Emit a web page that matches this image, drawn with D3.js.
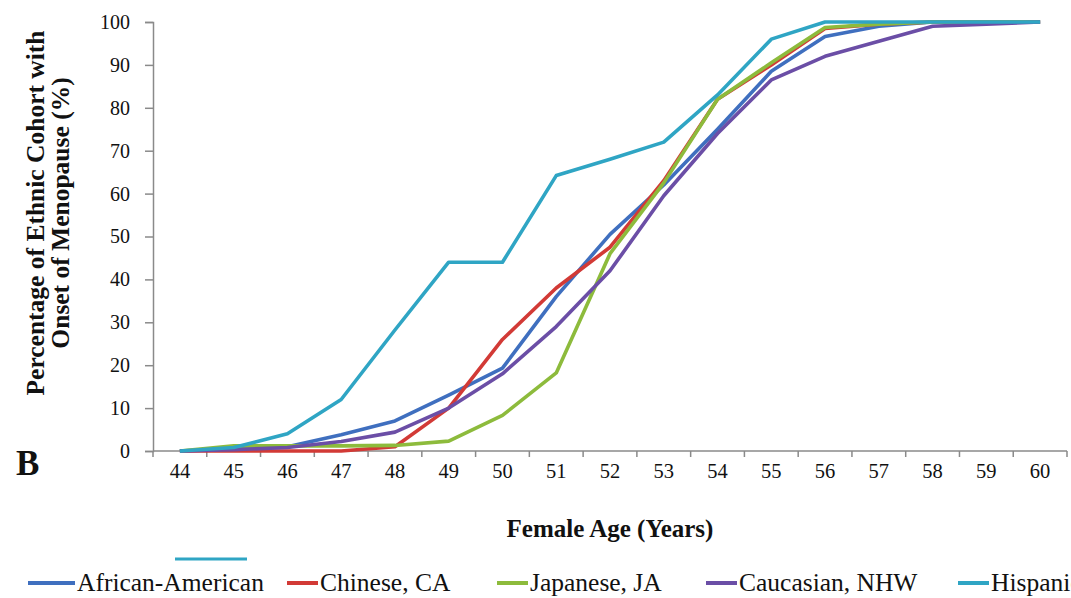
<!DOCTYPE html>
<html>
<head>
<meta charset="utf-8">
<script src="https://cdn.jsdelivr.net/npm/d3@7"></script>
<style>
  html, body { margin: 0; padding: 0; background: #fff; }
  svg { display: block; }
  svg text { font-family: "Liberation Serif", "Times New Roman", serif; }
</style>
</head>
<body>
<svg id="chart" width="1071" height="598"></svg>
<script>
// Female age (years) on the category axis
const ages = [44, 45, 46, 47, 48, 49, 50, 51, 52, 53, 54, 55, 56, 57, 58, 59, 60];

// Cumulative percentage of each ethnic cohort with onset of menopause
const africanAmerican = [0, 0.5, 1, 3.8, 7, 13, 19.3, 36, 50.5, 62, 75, 88.5, 96.6, 99, 100, 100, 100];
const chineseCA       = [0, 0, 0, 0, 1, 10, 26, 38, 47.5, 63, 82, 90, 98.5, 99.5, 100, 100, 100];
const japaneseJA      = [0, 1.2, 1.2, 1.2, 1.3, 2.3, 8.3, 18.2, 46, 62.5, 82, 90.5, 98.7, 99.5, 100, 100, 100];
const caucasianNHW    = [0, 0.3, 0.8, 2.2, 4.4, 10, 18, 29, 42, 59.5, 74, 86.5, 92, 95.5, 99, 99.5, 100];
const hispanic        = [0, 0.8, 4, 12, 28.2, 44, 44, 64.2, 68, 72, 83, 96, 100, 100, 100, 100, 100];

const seriesNames  = ["African-American", "Chinese, CA", "Japanese, JA", "Caucasian, NHW", "Hispanic"];
const seriesValues = [africanAmerican, chineseCA, japaneseJA, caucasianNHW, hispanic];
const seriesColors = ["#3f6fbf", "#d23a36", "#8dbb3c", "#6b4ea6", "#2fa5c4"];

const yTicks = [0, 10, 20, 30, 40, 50, 60, 70, 80, 90, 100];

const serif = '"Liberation Serif", "Times New Roman", serif';
const svg = d3.select("#chart");

const x = d3.scaleBand().domain(ages).range([153, 1067]).paddingInner(0).paddingOuter(0);
const y = d3.scaleLinear().domain([0, 100]).range([451, 22]);
const axisColor = "#8a8a8a";

// Y axis
const yAxis = svg.append("g")
  .attr("transform", "translate(153,0)")
  .call(d3.axisLeft(y).tickValues(yTicks).tickSize(8).tickPadding(15).tickFormat(d3.format("d")))
  .attr("font-family", serif);
yAxis.select(".domain").attr("stroke", axisColor).attr("stroke-width", 1.5);
yAxis.selectAll(".tick line").attr("stroke", axisColor).attr("stroke-width", 1.5);
yAxis.selectAll(".tick text")
  .attr("font-family", serif)
  .attr("font-size", 20)
  .attr("fill", "#111");

// X axis: ticks sit on the category boundaries, labels at band centres
const xAxis = svg.append("g").attr("transform", "translate(0,451)");
xAxis.append("line")
  .attr("x1", 153).attr("x2", 1067).attr("y1", 0).attr("y2", 0)
  .attr("stroke", axisColor).attr("stroke-width", 1.5);
const boundaries = ages.map(a => x(a)).concat([x(ages[ages.length - 1]) + x.bandwidth()]);
xAxis.selectAll("line.tk").data(boundaries).join("line")
  .attr("class", "tk")
  .attr("x1", d => d).attr("x2", d => d)
  .attr("y1", 0).attr("y2", 6)
  .attr("stroke", axisColor).attr("stroke-width", 1.5);
xAxis.selectAll("text.lbl").data(ages).join("text")
  .attr("class", "lbl")
  .attr("x", d => x(d) + x.bandwidth() / 2)
  .attr("y", 27)
  .attr("text-anchor", "middle")
  .attr("font-family", serif)
  .attr("font-size", 20.5)
  .attr("fill", "#111")
  .text(d => d);

// Series lines
const line = d3.line()
  .x((d, i) => x(ages[i]) + x.bandwidth() / 2)
  .y(d => y(d));

svg.append("g").selectAll("path")
  .data(seriesValues)
  .join("path")
  .attr("d", d => line(d))
  .attr("fill", "none")
  .attr("stroke", (d, i) => seriesColors[i])
  .attr("stroke-width", 3.6)
  .attr("stroke-linejoin", "round");

// Axis titles
svg.append("text")
  .attr("x", 610).attr("y", 537)
  .attr("text-anchor", "middle")
  .attr("font-family", serif)
  .attr("font-weight", "bold")
  .attr("font-size", 25)
  .attr("fill", "#111")
  .text("Female Age (Years)");

const yTitle = svg.append("text")
  .attr("transform", "translate(0,213) rotate(-90)")
  .attr("text-anchor", "middle")
  .attr("font-family", serif)
  .attr("font-weight", "bold")
  .attr("font-size", 25.5)
  .attr("fill", "#111");
yTitle.append("tspan").attr("x", 0).attr("y", 44).text("Percentage of Ethnic Cohort with");
yTitle.append("tspan").attr("x", 0).attr("y", 69).text("Onset of Menopause (%)");

// Panel letter
svg.append("text")
  .attr("x", 16).attr("y", 475)
  .attr("font-family", serif)
  .attr("font-weight", "bold")
  .attr("font-size", 35)
  .attr("fill", "#111")
  .text("B");

// Legend: one row below the axis title, last entry runs off the right edge
const legend = svg.append("g");
legend.append("line")
  .attr("x1", 175).attr("x2", 247).attr("y1", 559).attr("y2", 559)
  .attr("stroke", seriesColors[4]).attr("stroke-width", 3);

const legendStart = [28, 287, 497, 706, 958];
const legendKey   = [47, 31, 31, 31, 31];
seriesNames.forEach((name, i) => {
  const lx = legendStart[i];
  legend.append("line")
    .attr("x1", lx).attr("x2", lx + legendKey[i])
    .attr("y1", 583).attr("y2", 583)
    .attr("stroke", seriesColors[i]).attr("stroke-width", 4);
  legend.append("text")
    .attr("x", lx + legendKey[i] + 2).attr("y", 591)
    .attr("font-family", serif)
    .attr("font-size", 25.5)
    .attr("fill", "#111")
    .text(name);
});
</script>
</body>
</html>
